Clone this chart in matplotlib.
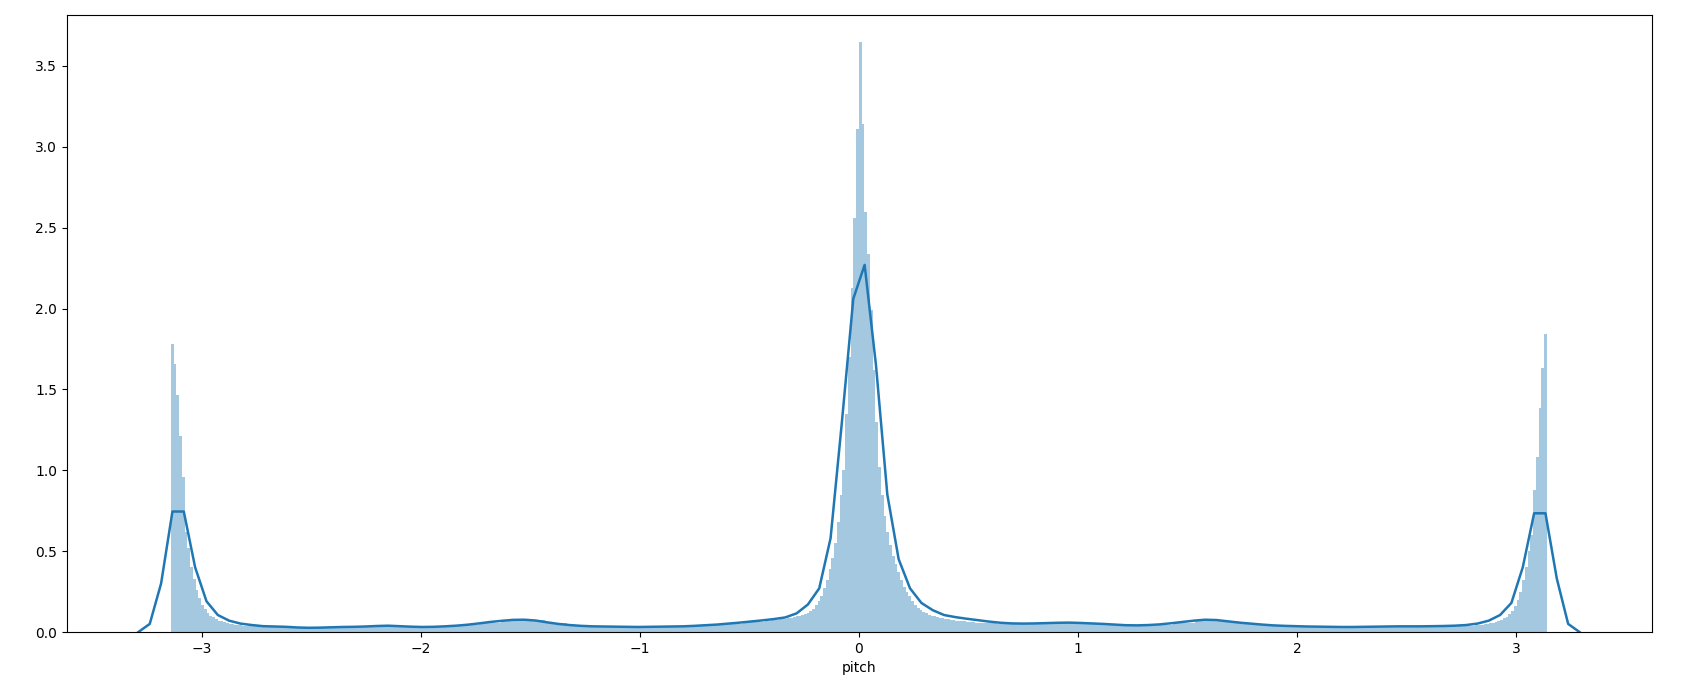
import numpy as np
import matplotlib
matplotlib.use("Agg")
import matplotlib.pyplot as plt

# --- Histogram (density), 500 bins over [-pi, pi] ---
n_bins = 500

# bins 0..31 (left edge peak)
hist_left_peak = [1.78, 1.66, 1.465, 1.21, 0.96, 0.62, 0.52, 0.40, 0.33, 0.26,
                  0.21, 0.17, 0.14, 0.12, 0.10, 0.09, 0.08, 0.07, 0.065, 0.06,
                  0.055, 0.05, 0.048, 0.045, 0.043, 0.041, 0.040, 0.039, 0.038,
                  0.037, 0.036, 0.035]
# bins 32..215, one reading per 8 bins
hist_left_flat = [0.034, 0.030, 0.027, 0.029, 0.031, 0.035, 0.035, 0.031,
                  0.034, 0.042, 0.056, 0.070, 0.072, 0.055, 0.040, 0.034,
                  0.032, 0.031, 0.033, 0.035, 0.041, 0.050, 0.062]
# bins 216..291 (central peak)
hist_center = [0.068, 0.070, 0.072, 0.074, 0.076, 0.078, 0.080, 0.083, 0.086,
               0.089, 0.092, 0.096, 0.100, 0.105, 0.110,
               0.12, 0.13, 0.145, 0.165, 0.19, 0.22, 0.27, 0.32, 0.39, 0.46,
               0.55, 0.68, 0.85, 1.00, 1.35, 1.70, 2.13, 2.56, 3.11,
               3.65,
               3.14, 2.60, 2.34, 1.99, 1.62, 1.30, 1.02, 0.85, 0.72, 0.62,
               0.54, 0.47, 0.42, 0.37, 0.32, 0.28, 0.25, 0.22, 0.19, 0.17,
               0.15, 0.135, 0.125, 0.115, 0.108, 0.102, 0.097, 0.093, 0.089,
               0.085, 0.082, 0.079, 0.076, 0.073, 0.071, 0.069, 0.067, 0.065,
               0.063, 0.061, 0.060]
# bins 292..467, one reading per 8 bins
hist_right_flat = [0.058, 0.052, 0.050, 0.053, 0.055, 0.051, 0.045, 0.040,
                   0.044, 0.058, 0.072, 0.066, 0.052, 0.042, 0.036, 0.033,
                   0.031, 0.031, 0.032, 0.034, 0.034, 0.036]
# bins 468..499 (right edge peak)
hist_right_peak = [0.036, 0.037, 0.037, 0.038, 0.039, 0.040, 0.041, 0.043,
                   0.045, 0.047, 0.050, 0.053, 0.057, 0.062, 0.068, 0.075,
                   0.085, 0.095, 0.11, 0.13, 0.16, 0.20, 0.25, 0.32, 0.40,
                   0.50, 0.60, 0.88, 1.08, 1.385, 1.63, 1.84]

# --- KDE curve, 128 points from -3.29 to 3.29 ---
kde_lo, kde_hi = -3.29, 3.29
kde_y = [0.0, 0.05, 0.30, 0.745, 0.745, 0.40, 0.19, 0.105, 0.07, 0.052,
         0.043, 0.036, 0.034, 0.032, 0.028, 0.026, 0.027, 0.029, 0.031, 0.032,
         0.034, 0.037, 0.039, 0.036, 0.033, 0.031, 0.032, 0.035, 0.039, 0.045,
         0.053, 0.062, 0.069, 0.075, 0.076, 0.071, 0.060, 0.050, 0.043, 0.038,
         0.035, 0.034, 0.033, 0.032, 0.031, 0.032, 0.033, 0.034, 0.035, 0.038,
         0.042, 0.046, 0.052, 0.058, 0.065, 0.072, 0.080, 0.090, 0.115, 0.17,
         0.27, 0.58, 1.30, 2.06, 2.27, 1.65, 0.85, 0.45, 0.27, 0.18,
         0.135, 0.105, 0.092, 0.082, 0.073, 0.064, 0.057, 0.053, 0.052, 0.053,
         0.055, 0.057, 0.058, 0.056, 0.053, 0.050, 0.046, 0.042, 0.041, 0.043,
         0.047, 0.054, 0.062, 0.070, 0.076, 0.074, 0.066, 0.058, 0.052, 0.046,
         0.041, 0.038, 0.036, 0.034, 0.033, 0.032, 0.031, 0.031, 0.032, 0.033,
         0.034, 0.035, 0.035, 0.035, 0.036, 0.037, 0.039, 0.043, 0.052, 0.07,
         0.105, 0.18, 0.40, 0.734, 0.734, 0.33, 0.05, 0.0]

# --- Assemble bins ---
heights = np.concatenate([
    hist_left_peak,
    np.repeat(hist_left_flat, 8),
    hist_center,
    np.repeat(hist_right_flat, 8),
    hist_right_peak,
])
edges = np.linspace(-np.pi, np.pi, n_bins + 1)
centers = (edges[:-1] + edges[1:]) / 2
kde_x = np.linspace(kde_lo, kde_hi, len(kde_y))

# --- Plot ---
fig = plt.figure(figsize=(17, 6.96), dpi=100)
ax = fig.add_axes([67 / 1700, 64 / 696, 1585 / 1700, 617 / 696])

ax.hist(centers, bins=edges, weights=heights, color="#1f77b4", alpha=0.4)
ax.plot(kde_x, kde_y, color="#1f77b4", linewidth=1.8)

ax.set_xlim(-3.616, 3.621)
ax.set_ylim(0, 3.815)
ax.set_yticks([0, 0.5, 1.0, 1.5, 2.0, 2.5, 3.0, 3.5])
ax.set_xlabel("pitch")

fig.savefig("out.png", dpi=100)
